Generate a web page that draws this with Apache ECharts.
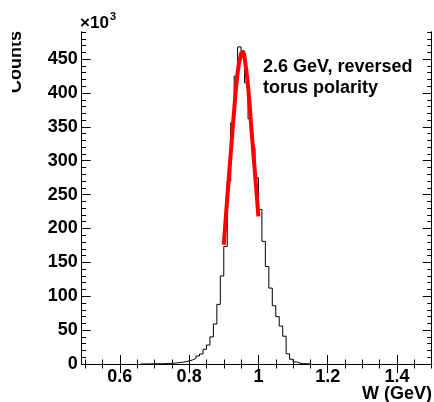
<!DOCTYPE html>
<html><head><meta charset="utf-8">
<script src="https://cdn.jsdelivr.net/npm/echarts@6/dist/echarts.min.js"></script>
<style>html,body{margin:0;padding:0;background:#fff}#c{width:434px;height:402px}</style>
</head><body><div id="c"></div>
<script>
// Histogram: left bin edges (GeV) and counts (x10^3)
const binLeftEdges = [0.66,0.67,0.68,0.69,0.70,0.71,0.72,0.73,0.74,0.75,0.76,0.77,0.78,0.79,
  0.80,0.81,0.82,0.83,0.84,0.85,0.86,0.87,0.88,0.89,0.90,0.91,0.92,0.93,0.94,0.95,0.96,0.97,
  0.98,0.99,1.00,1.01,1.02,1.03,1.04,1.05,1.06,1.07,1.08,1.09,1.10,1.11,1.12,1.13,1.14];
const binWidth = 0.01;
const counts = [0.1,0.1,0.2,0.2,0.3,0.4,0.5,0.7,1.0,1.4,1.9,2.5,3.3,4.5,
  6.0,8.4,11.8,14.8,21.7,28,40,59,88,130,173.5,270,356,425,468,462,415,362,
  319,275,228,181,144,112,86,70,56,41,15,7,3,1.2,0.6,0.3,0.1];
// Fit curve
const fitW = [0.900,0.910,0.920,0.930,0.940,0.950,0.955,0.960,0.970,0.980,0.990,1.000];
const fitCounts = [176,245,310,375,430,458,460,452,410,345,282,218];
// Axes
const xRange = [0.49, 1.5];
const yRange = [0, 490];
const xMajorTicks = [0.6,0.8,1.0,1.2,1.4];
const yMajorTicks = [0,50,100,150,200,250,300,350,400,450];
const annotationLines = ['2.6 GeV, reversed','torus polarity'];

const xMinorTicks = [];
for (let i = 0; i <= 20; i++) { const v = +(0.5 + i*0.05).toFixed(2); if (!xMajorTicks.some(m => Math.abs(m - v) < 1e-9)) xMinorTicks.push(v); }
const yMinorTicks = [];
for (let v = 0; v <= 490; v += 10) { if (v % 50 !== 0) yMinorTicks.push(v); }

const histData = [[binLeftEdges[0], 0]];
binLeftEdges.forEach((e, i) => histData.push([e, counts[i]]));
const endEdge = +(binLeftEdges[binLeftEdges.length-1] + binWidth).toFixed(2);
histData.push([endEdge, counts[counts.length-1]]);
histData.push([endEdge, 0]);
const fitData = fitW.map((w, i) => [w, fitCounts[i]]);

const FONT = '"Liberation Sans", Arial, Helvetica, sans-serif';
const line = {show: true, lineStyle: {color: '#000', width: 1}};
function xAx(pos, ticks, len, labels) {
  return {type: 'value', position: pos, min: xRange[0], max: xRange[1],
    axisLine: line, splitLine: {show: false},
    axisTick: {show: true, inside: true, length: len, customValues: ticks, lineStyle: {color: '#000', width: 1}},
    axisLabel: labels ? {show: true, customValues: ticks, margin: 4, color: '#000', fontSize: 18, fontWeight: 'bold', fontFamily: FONT} : {show: false}};
}
function yAx(pos, ticks, len, labels) {
  return {type: 'value', position: pos, min: yRange[0], max: yRange[1],
    axisLine: line, splitLine: {show: false},
    axisTick: {show: true, inside: true, length: len, customValues: ticks, lineStyle: {color: '#000', width: 1}},
    axisLabel: labels ? {show: true, customValues: ticks, margin: 4, color: '#000', fontSize: 18, fontWeight: 'bold', fontFamily: FONT} : {show: false}};
}

const chart = echarts.init(document.getElementById('c'), null, {renderer: 'canvas'});
chart.setOption({
  animation: false,
  backgroundColor: '#fff',
  grid: {left: 81.7, right: 2.3, top: 32, bottom: 38, containLabel: false, outerBoundsMode: 'none'},
  xAxis: [xAx('bottom', xMajorTicks, 9, true), xAx('bottom', xMinorTicks, 4.5, false),
          xAx('top', xMajorTicks, 9, false), xAx('top', xMinorTicks, 4.5, false)],
  yAxis: [yAx('left', yMajorTicks, 9, true), yAx('left', yMinorTicks, 4.5, false),
          yAx('right', yMajorTicks, 9, false), yAx('right', yMinorTicks, 4.5, false)],
  series: [
    {type: 'line', xAxisIndex: 0, yAxisIndex: 0, data: histData, step: 'end', symbol: 'none',
     lineStyle: {color: '#000', width: 1}, z: 2},
    {type: 'line', xAxisIndex: 0, yAxisIndex: 0, data: fitData, smooth: true, symbol: 'none',
     lineStyle: {color: '#ff0000', width: 4}, z: 3}
  ],
  graphic: [
    {type: 'text', x: 25, y: 31, rotation: Math.PI/2, z: 10,
     style: {text: 'Counts', font: 'bold 18px ' + FONT, fill: '#000', align: 'right', verticalAlign: 'bottom'}},
    {type: 'rect', shape: {x: 0, y: 0, width: 12, height: 140}, style: {fill: '#fff'}, z: 11},
    {type: 'text', x: 80, y: 32, z: 10,
     style: {text: '×10', font: 'bold 17px ' + FONT, fill: '#000', align: 'left', verticalAlign: 'bottom'}},
    {type: 'text', x: 110, y: 11, z: 10,
     style: {text: '3', font: 'bold 11px ' + FONT, fill: '#000', align: 'left', verticalAlign: 'top'}},
    {type: 'text', x: 432, y: 403, z: 10,
     style: {text: 'W (GeV)', font: 'bold 18px ' + FONT, fill: '#000', align: 'right', verticalAlign: 'bottom'}},
    {type: 'text', x: 263, y: 57, z: 10,
     style: {text: annotationLines.join('\n'), font: 'bold 18px ' + FONT, lineHeight: 21, fill: '#000', align: 'left', verticalAlign: 'top'}}
  ]
});
</script></body></html>
